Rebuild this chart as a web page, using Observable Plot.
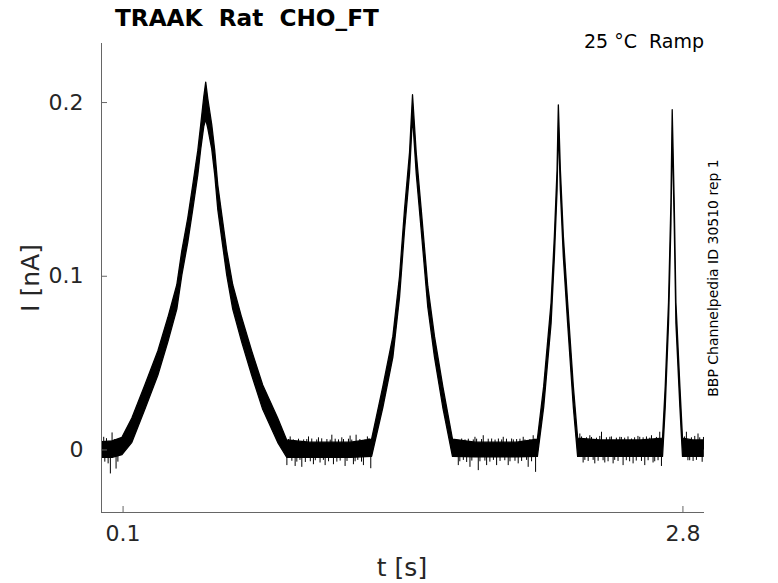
<!DOCTYPE html>
<html><head><meta charset="utf-8">
<script src="https://cdn.jsdelivr.net/npm/d3@7"></script>
<script src="https://cdn.jsdelivr.net/npm/@observablehq/plot@0.6"></script>
<style>
body{margin:0;background:#fff;}
</style>
</head><body><div id="wrap"></div>
<script>
// ---- data ----
const titleText = "TRAAK  Rat  CHO_FT";
const subtitleText = "25 °C  Ramp";
const sideText = "BBP Channelpedia ID 30510 rep 1";
const xLabel = "t [s]";
const yLabel = "I [nA]";
const xTicks = [0.1, 2.8];
const yTicks = [0, 0.1, 0.2];
const xDomain = [-0.004, 2.904];
const yDomain = [-0.036, 0.234];

// trace envelope: time (s), lower and upper current (nA)
const t = [0, 0.05, 0.097, 0.1448, 0.2074, 0.270, 0.318, 0.3616, 0.3857, 0.4146, 0.4386, 0.4627, 0.477, 0.4916, 0.501, 0.5109, 0.530, 0.5446, 0.559, 0.5805, 0.6024, 0.6313, 0.6747, 0.7228, 0.7758, 0.848, 0.8914, 1.0, 1.1, 1.2, 1.3009, 1.3553, 1.4035, 1.4357, 1.4598, 1.4839, 1.4983, 1.5161, 1.5402, 1.572, 1.6043, 1.6443, 1.691, 1.8, 1.9, 2.0, 2.1005, 2.1308, 2.1665, 2.1824, 2.1954, 2.2016, 2.2113, 2.2257, 2.2464, 2.2739, 2.2946, 2.4, 2.5, 2.6, 2.704, 2.717, 2.7329, 2.7445, 2.7507, 2.7604, 2.7686, 2.7878, 2.8003, 2.85, 2.9];
const lo = [-0.0045, -0.0045, -0.003, 0.0041, 0.0231, 0.0427, 0.0618, 0.0808, 0.1004, 0.1194, 0.1384, 0.158, 0.173, 0.186, 0.19, 0.185, 0.173, 0.158, 0.1384, 0.1194, 0.1004, 0.0808, 0.0618, 0.0427, 0.0231, 0.0041, -0.0045, -0.0045, -0.0045, -0.0045, -0.004, 0.0243, 0.0531, 0.0877, 0.1262, 0.159, 0.192, 0.159, 0.1262, 0.082, 0.0531, 0.0243, -0.004, -0.0042, -0.0042, -0.0042, -0.004, 0.0243, 0.0726, 0.1108, 0.1492, 0.187, 0.1492, 0.1108, 0.0726, 0.0243, -0.004, -0.004, -0.004, -0.004, -0.004, 0.0243, 0.0726, 0.1302, 0.184, 0.1302, 0.0726, 0.0243, -0.004, -0.004, -0.004];
const hi = [0.0045, 0.005, 0.007, 0.0181, 0.0371, 0.0567, 0.0758, 0.0948, 0.1144, 0.1334, 0.1524, 0.172, 0.187, 0.203, 0.2115, 0.202, 0.187, 0.172, 0.1524, 0.1334, 0.1144, 0.0948, 0.0758, 0.0567, 0.0371, 0.0181, 0.0055, 0.0042, 0.0042, 0.0042, 0.006, 0.0363, 0.0651, 0.0997, 0.1382, 0.171, 0.2042, 0.171, 0.1382, 0.094, 0.0651, 0.0363, 0.006, 0.0042, 0.0042, 0.0042, 0.006, 0.0363, 0.0846, 0.1228, 0.1612, 0.1984, 0.1612, 0.1228, 0.0846, 0.0363, 0.0065, 0.0055, 0.0055, 0.0055, 0.0065, 0.0363, 0.0846, 0.1422, 0.1956, 0.1422, 0.0846, 0.0363, 0.0065, 0.0055, 0.0055];

// larger noise spikes on the baseline: time (s), tip current (nA)
const spikeT = [0.0067, 0.0388, 0.047, 0.0663, 0.890, 0.9059, 0.9299, 0.962, 0.9942, 1.018, 1.0423, 1.0745, 1.1068, 1.1146, 1.1549, 1.1707, 1.1949, 1.2109, 1.2238, 1.2591, 1.2782, 1.2946, 1.7166, 1.7329, 1.7729, 1.797, 1.813, 1.837, 1.8533, 1.8775, 1.9015, 1.9334, 1.9574, 1.9738, 2.0055, 2.0297, 2.0537, 2.0779, 2.0894, 2.3028, 2.3187, 2.351, 2.375, 2.4073, 2.4232, 2.4474, 2.4633, 2.4955, 2.5114, 2.5519, 2.5596, 2.5918, 2.616, 2.6483, 2.656, 2.6882, 2.6964, 2.8167, 2.8326, 2.8727, 2.8927];
const spikeI = [0.0073, -0.0138, 0.0098, -0.011, -0.009, 0.0075, -0.0095, -0.010, 0.0075, -0.0085, 0.007, -0.009, 0.0085, -0.0085, 0.007, -0.0095, 0.008, -0.0085, 0.0085, -0.009, 0.0075, -0.0108, -0.009, 0.0063, -0.010, 0.0073, -0.0119, 0.0082, -0.009, 0.0063, -0.009, 0.0073, -0.009, 0.0063, -0.008, 0.0073, -0.010, 0.0082, -0.0129, 0.0092, -0.0075, 0.0082, -0.008, 0.0102, -0.0075, 0.0073, -0.008, 0.0073, -0.009, 0.0063, -0.008, 0.0073, -0.009, 0.0082, -0.0075, 0.0102, -0.0095, 0.0102, -0.0062, 0.0092, -0.0071];

// smaller noise excursions on the baseline: time (s), tip current (nA)
const minorT = [0.012, 0.02, 0.028, 0.058, 0.075, 0.085,
  0.898, 0.914, 0.921, 0.938, 0.946, 0.953, 0.971, 0.979, 0.986, 1.003, 1.010, 1.027, 1.034, 1.050, 1.058, 1.066, 1.083, 1.091, 1.099, 1.123, 1.131, 1.139, 1.147, 1.163, 1.180, 1.187, 1.203, 1.219, 1.232, 1.242, 1.250, 1.267, 1.286,
  1.706, 1.724, 1.741, 1.749, 1.757, 1.765, 1.782, 1.789, 1.805, 1.821, 1.829, 1.845, 1.861, 1.869, 1.886, 1.894, 1.910, 1.918, 1.926, 1.941, 1.949, 1.966, 1.982, 1.990, 1.998, 2.014, 2.022, 2.038, 2.046, 2.062, 2.070, 2.085,
  2.311, 2.327, 2.335, 2.343, 2.359, 2.367, 2.383, 2.391, 2.399, 2.415, 2.431, 2.439, 2.455, 2.471, 2.479, 2.487, 2.503, 2.519, 2.527, 2.535, 2.543, 2.567, 2.575, 2.583, 2.600, 2.608, 2.624, 2.632, 2.640, 2.664, 2.672, 2.680,
  2.808, 2.824, 2.841, 2.849, 2.857, 2.865, 2.881, 2.899];
const minorI = [-0.007, 0.0065, -0.008, 0.006, -0.007, 0.005,
  0.006, -0.0065, 0.0058, -0.007, 0.0062, -0.006, 0.0058, -0.0072, 0.006, -0.0068, 0.0063, -0.0062, 0.0058, -0.0075, 0.0064, -0.006, 0.006, -0.0068, 0.0057, 0.0062, -0.007, 0.0058, -0.0064, 0.006, -0.0066, 0.0062, 0.0057, -0.0068, -0.006, 0.006, -0.007, 0.0058, 0.0065,
  0.006, -0.0068, -0.006, 0.0058, -0.0072, 0.0062, -0.0064, 0.0058, 0.0062, -0.0068, 0.006, -0.0064, 0.0062, -0.007, -0.006, 0.0057, 0.0063, -0.0066, 0.0058, -0.0062, 0.0062, -0.0068, 0.0058, -0.0065, 0.006, 0.0062, -0.0066, 0.0058, -0.006, 0.006, -0.0068, 0.0062,
  0.0075, -0.006, 0.007, -0.0066, 0.0072, -0.006, 0.0068, -0.0065, 0.0078, -0.0062, 0.007, -0.0068, 0.0075, -0.006, 0.0068, -0.0066, 0.0072, 0.0068, -0.0062, 0.0075, -0.0068, 0.007, -0.0064, 0.0078, -0.0066, 0.007, 0.0075, -0.0062, 0.0068, -0.0068, 0.0072, -0.0062,
  0.0075, -0.0062, 0.007, -0.0066, 0.0078, -0.006, 0.007, 0.0072];

const trace = t.map((d, i) => ({t: d, lo: lo[i], hi: hi[i]}));
const spikes = spikeT.map((d, i) => ({t: d, I: spikeI[i]}))
  .concat(minorT.map((d, i) => ({t: d, I: minorI[i]})));

const axisColor = "#666";
const textColor = "#262626";
const font = "DejaVu Sans";
const W = 778, H = 583, mL = 101, mR = 74, mT = 43, mB = 71;
const tickLen = 6;

const plot = Plot.plot({
  width: W, height: H,
  marginLeft: mL, marginRight: mR, marginTop: mT, marginBottom: mB,
  style: {fontFamily: font, background: "white", overflow: "visible"},
  x: {domain: xDomain},
  y: {domain: yDomain},
  marks: [
    Plot.areaY(trace, {x: "t", y1: "lo", y2: "hi", fill: "black", stroke: "black", strokeWidth: 1.3, clip: true}),
    Plot.ruleX(spikes, {x: "t", y1: 0, y2: "I", stroke: "black", strokeWidth: 1, clip: true}),
    Plot.ruleX([xDomain[0]], {y1: yDomain[0], y2: yDomain[1], stroke: axisColor, strokeWidth: 1}),
    Plot.ruleY([yDomain[0]], {x1: xDomain[0], x2: xDomain[1], stroke: axisColor, strokeWidth: 1}),
    Plot.tickX(xTicks, {x: d => d, stroke: axisColor, insetTop: H - mT - mB - tickLen}),
    Plot.tickY(yTicks, {y: d => d, stroke: axisColor, insetRight: W - mL - mR - tickLen}),
    Plot.axisX(xTicks, {tickSize: 0, tickPadding: 13, fontSize: 22, fill: textColor, label: null, tickFormat: d3.format(".1f")}),
    Plot.axisY(yTicks, {tickSize: 0, tickPadding: 18, fontSize: 22, fill: textColor, label: null, tickFormat: d => d === 0 ? "0" : d3.format(".1f")(d)})
  ]
});

document.getElementById("wrap").appendChild(plot);
const svg = d3.select(plot);
function addText(txt, x, y, size, opts = {}) {
  const el = svg.append("text")
    .attr("x", x).attr("y", y)
    .attr("font-family", font)
    .attr("font-size", size)
    .attr("fill", opts.fill || "black")
    .attr("text-anchor", opts.anchor || "start")
    .attr("font-weight", opts.weight || "normal")
    .style("white-space", "pre")
    .attr("xml:space", "preserve")
    .text(txt);
  if (opts.transform) el.attr("transform", opts.transform).attr("x", 0).attr("y", 0);
  return el;
}
addText(titleText, 115, 26, 23.2, {weight: "bold"});
addText(subtitleText, 704, 47.5, 19, {anchor: "end"});
addText(sideText, 0, 0, 14, {anchor: "middle", transform: "translate(718,278) rotate(-90)"});
addText(yLabel, 0, 0, 25, {anchor: "middle", fill: textColor, transform: "translate(39,278) rotate(-90)"});
addText(xLabel, 402, 576, 25, {anchor: "middle", fill: textColor});
</script>
</body></html>
